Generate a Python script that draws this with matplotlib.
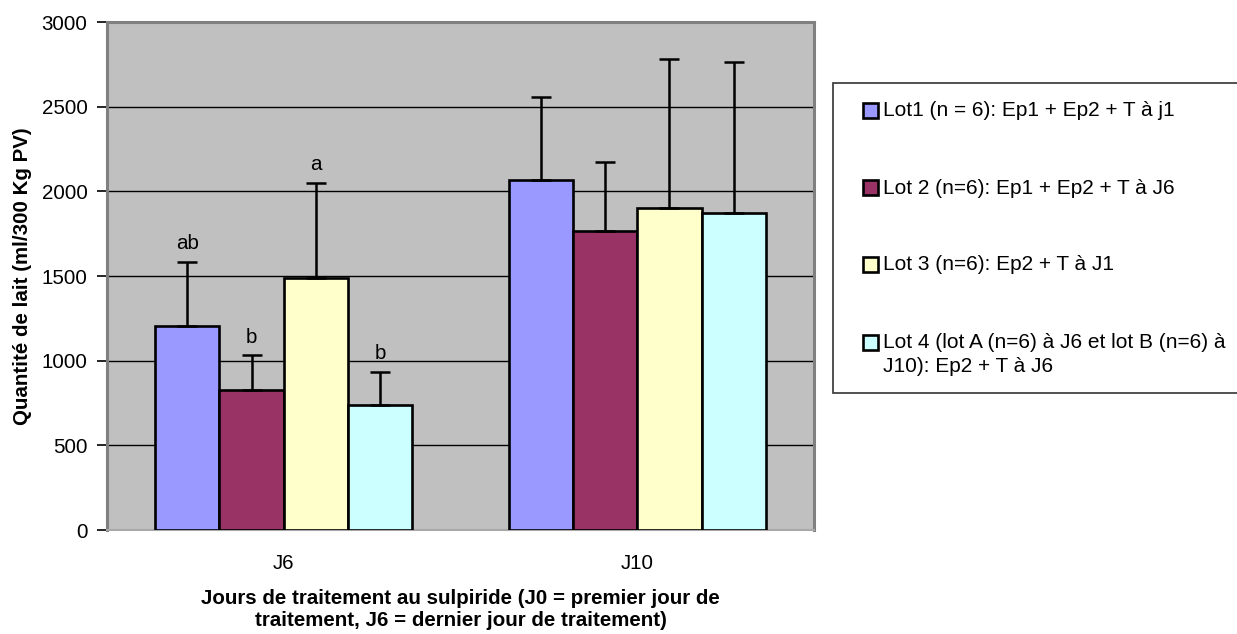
import matplotlib
matplotlib.use("Agg")
import matplotlib.pyplot as plt
from matplotlib.patches import Rectangle
import numpy as np

plt.rcParams['font.family'] = ['Liberation Sans', 'DejaVu Sans']

# Data
days = ["J6", "J10"]
lots = [
    "Lot1 (n = 6): Ep1 + Ep2 + T à j1",
    "Lot 2 (n=6): Ep1 + Ep2 + T à J6",
    "Lot 3 (n=6): Ep2 + T à J1",
    "Lot 4 (lot A (n=6) à J6 et lot B (n=6) à\nJ10): Ep2 + T à J6",
]
lot1_mean = [1205, 2065]
lot2_mean = [825, 1765]
lot3_mean = [1490, 1900]
lot4_mean = [740, 1870]
lot1_sd = [380, 495]
lot2_sd = [207, 410]
lot3_sd = [560, 880]
lot4_sd = [195, 893]
letters_j6 = ["ab", "b", "a", "b"]

colors = ["#9999FF", "#993366", "#FFFFCC", "#CCFFFF"]

means = [lot1_mean, lot2_mean, lot3_mean, lot4_mean]
sds = [lot1_sd, lot2_sd, lot3_sd, lot4_sd]

W, H = 1237, 634
fig = plt.figure(figsize=(W / 100, H / 100), dpi=100)
ax = fig.add_axes([107 / W, 1 - 530 / H, (814 - 107) / W, (530 - 22) / H])
ax.set_facecolor("#C0C0C0")

FS = 14.8
x = np.arange(len(days))
bw = 0.182
for i in range(4):
    pos = x + (i - 1.5) * bw
    ax.bar(pos, means[i], width=bw, color=colors[i], edgecolor="black",
           linewidth=1.9, zorder=3)
    ax.errorbar(pos, means[i], yerr=[np.zeros(len(days)), sds[i]], fmt="none",
                ecolor="black", elinewidth=1.8, capsize=7.2, capthick=1.8,
                zorder=4)
    # significance letters above the J6 bars
    ax.annotate(letters_j6[i], (pos[0], means[i][0] + sds[i][0]),
                xytext=(0, 13), textcoords="offset points",
                ha="center", va="center", fontsize=FS, zorder=5)

ax.set_xlim(-0.5, 1.5)
ax.set_ylim(0, 3000)
ax.set_yticks(np.arange(0, 3001, 500))
ax.yaxis.grid(True, color="black", linewidth=1.0)
ax.set_axisbelow(True)
ax.set_xticks(x)
ax.set_xticklabels(days, fontsize=FS)
ax.tick_params(axis="x", length=0, pad=17)
ax.tick_params(axis="y", length=7, width=1.2, pad=7, labelsize=FS,
               direction="out", color="black")

for side in ["top", "right", "left"]:
    ax.spines[side].set_color("#808080")
    ax.spines[side].set_linewidth(2.2)
ax.spines["bottom"].set_color("#A8A8A8")
ax.spines["bottom"].set_linewidth(1.5)

ax.set_ylabel("Quantité de lait (ml/300 Kg PV)", fontsize=FS, fontweight="bold")
ax.yaxis.set_label_coords(-0.119, 0.5)
ax.yaxis.label.set_va("center")
ax.set_xlabel("Jours de traitement au sulpiride (J0 = premier jour de\n"
              "traitement, J6 = dernier jour de traitement)",
              fontsize=FS, fontweight="bold", linespacing=1.2)
ax.xaxis.set_label_coords(0.5, -0.1565)
ax.xaxis.label.set_va("center")

# Legend box, running off the right edge of the figure
frame = Rectangle((833 / W, 1 - 393 / H), (1260 - 833) / W, (393 - 83) / H,
                  transform=fig.transFigure, facecolor="white",
                  edgecolor="#333333", linewidth=1.2, zorder=0)
fig.patches.append(frame)

# Legend entries: swatch aligned with the first line of each label
entry_y = [110, 187, 264, 342]
sw = 15
for lab, col, yc in zip(lots, colors, entry_y):
    fig.patches.append(Rectangle((863 / W, 1 - (yc + sw / 2) / H), sw / W, sw / H,
                                 transform=fig.transFigure, facecolor=col,
                                 edgecolor="black", linewidth=1.9, zorder=2))
    fig.text(883 / W, 1 - (yc - 8.5) / H, lab, fontsize=15, ha="left",
             va="top", linespacing=1.3, zorder=3)

fig.savefig("out.png", dpi=100)
